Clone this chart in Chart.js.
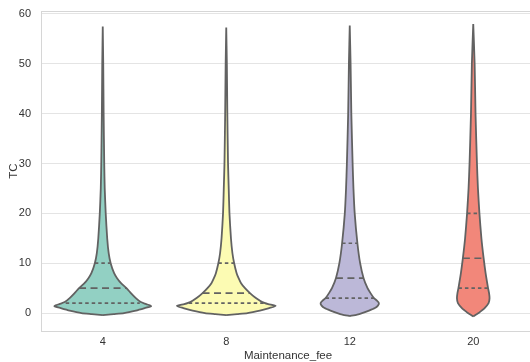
<!DOCTYPE html>
<html>
<head>
<meta charset="utf-8">
<script src="https://cdn.jsdelivr.net/npm/chart.js@4.4.0/dist/chart.umd.min.js"></script>
<style>
  html, body { margin: 0; padding: 0; background: #fff; overflow: hidden; }
  #wrap { width: 535px; height: 362px; }
</style>
</head>
<body>
<div id="wrap"><canvas id="violinChart" width="535" height="362"></canvas></div>
<script>
// categories on the x axis
const categories = ['4', '8', '12', '20'];
const yTicks = [0, 10, 20, 30, 40, 50, 60];

// kde profiles: TC level -> relative half-width (100 = widest)
const levels4 = [-0.4, -0.2, 0, 0.5, 1, 1.4, 1.8, 2.2, 3, 4, 5, 6, 7, 8, 10, 12, 15, 20, 25, 30, 40, 50, 57.5];
const dens4   = [0, 22, 43, 67, 85, 98, 88, 77, 67, 57, 48, 37, 29, 23, 16, 12, 9, 6, 4, 3, 1.8, 1, 0];

const levels8 = [-0.4, -0.2, 0, 0.5, 1, 1.4, 1.8, 2.2, 3, 4, 5, 6, 7, 8, 10, 12, 15, 20, 25, 30, 40, 50, 57.3];
const dens8   = [0, 22, 43, 68, 87, 100, 85, 73, 60, 48, 38, 30, 25, 21, 16, 12.5, 9.5, 6.5, 5, 3.6, 2.2, 1.2, 0];

const levels12 = [-0.6, -0.3, 0, 0.5, 1, 1.5, 2, 2.5, 3, 4, 5, 7, 10, 14, 20, 25, 30, 40, 50, 57.7];
const dens12   = [0, 15, 25, 39, 51, 57, 59, 55, 49, 42, 36, 28, 21, 15.5, 10, 7.5, 5.8, 3.2, 1.7, 0];

const levels20 = [-0.7, -0.3, 0, 0.5, 1, 2, 3, 4, 5, 8, 11, 15, 20, 25, 30, 40, 50, 58];
const dens20   = [0, 6, 11, 17, 23, 31, 33, 32, 30, 25, 21, 16.5, 12.5, 9.5, 7.5, 4.6, 2.8, 0];

// quartiles (Q1, median, Q3) and the half-width of the violin at each of them
const q1Values     = [2, 2, 3, 5];
const medianValues = [5, 4, 7, 11];
const q3Values     = [10, 10, 14, 20];
const q1Widths     = [75, 76, 49, 30];
const medianWidths = [48, 48, 28, 21];
const q3Widths     = [16, 16, 15.5, 12.5];

const fillColors = ['#92d0c3', '#fcfbb3', '#bcb8d8', '#f2877a'];
const lineGray = '#626262';
const MAX_HALF = 0.4; // seaborn width 0.8

const profiles = [
    { levels: levels4, dens: dens4 },
    { levels: levels8, dens: dens8 },
    { levels: levels12, dens: dens12 },
    { levels: levels20, dens: dens20 }
];

const datasets = [];

profiles.forEach((p, i) => {
    const pts = [];
    // right side bottom -> top, then left side top -> bottom
    p.levels.forEach((y, k) => pts.push({ x: i + p.dens[k] / 100 * MAX_HALF, y }));
    for (let k = p.levels.length - 1; k >= 0; k--) {
        pts.push({ x: i - p.dens[k] / 100 * MAX_HALF, y: p.levels[k] });
    }
    datasets.push({
        data: pts,
        showLine: true,
        fill: 'shape',
        backgroundColor: fillColors[i],
        borderColor: lineGray,
        borderWidth: 1.8,
        pointRadius: 0,
        tension: 0.2,
        order: 2
    });
});

function quartileLine(i, value, width, dash) {
    const h = width / 100 * MAX_HALF;
    return {
        data: [{ x: i - h, y: value }, { x: i + h, y: value }],
        showLine: true,
        fill: false,
        borderColor: lineGray,
        borderWidth: 1.7,
        borderDash: dash,
        pointRadius: 0,
        order: 1
    };
}

categories.forEach((c, i) => {
    datasets.push(quartileLine(i, q1Values[i], q1Widths[i], [3.5, 3]));
    datasets.push(quartileLine(i, medianValues[i], medianWidths[i], [7, 4.5]));
    datasets.push(quartileLine(i, q3Values[i], q3Widths[i], [3.5, 3]));
});

// light frame around the plot area (seaborn whitegrid spines)
const framePlugin = {
    id: 'frame',
    beforeDatasetsDraw(chart) {
        const a = chart.chartArea;
        const ctx = chart.ctx;
        ctx.save();
        ctx.strokeStyle = '#d6d6d6';
        ctx.lineWidth = 1;
        ctx.strokeRect(a.left + 0.5, a.top + 0.5, a.right - a.left, a.bottom - a.top);
        ctx.restore();
    }
};

Chart.defaults.font.family = "'Liberation Sans', Arial, sans-serif";
Chart.defaults.color = '#333';

new Chart(document.getElementById('violinChart'), {
    type: 'scatter',
    data: { datasets },
    plugins: [framePlugin],
    options: {
        responsive: false,
        animation: false,
        devicePixelRatio: 1,
        layout: { autoPadding: false, padding: { top: 11, right: 0, bottom: 0, left: 0 } },
        plugins: { legend: { display: false }, tooltip: { enabled: false } },
        scales: {
            x: {
                type: 'linear',
                min: -0.5,
                max: 3.5,
                afterBuildTicks: s => { s.ticks = categories.map((c, i) => ({ value: i })); },
                afterFit: s => { s.height = 31; },
                grid: { display: false, drawTicks: false },
                border: { display: false },
                ticks: {
                    padding: 4,
                    font: { size: 11 },
                    callback: v => categories[v]
                },
                title: {
                    display: true,
                    text: 'Maintenance_fee',
                    font: { size: 11.5 },
                    padding: { top: 0, bottom: -1 }
                }
            },
            y: {
                min: -3.6,
                max: 60.6,
                afterBuildTicks: s => { s.ticks = yTicks.map(v => ({ value: v })); },
                afterFit: s => { s.width = 41; },
                // invisible tick marks give the label gap without the extra top padding
                grid: { color: '#e4e4e4', lineWidth: 1, drawTicks: true, tickLength: 10, tickColor: 'rgba(0,0,0,0)' },
                border: { display: false },
                ticks: { padding: 0, font: { size: 11 } },
                title: {
                    display: true,
                    text: 'TC',
                    font: { size: 11.5 },
                    padding: { top: 7, bottom: 0 }
                }
            }
        }
    }
});
</script>
</body>
</html>
